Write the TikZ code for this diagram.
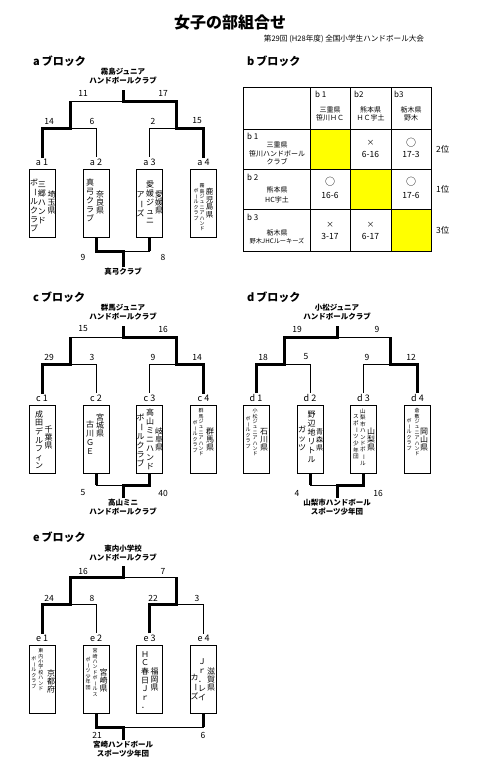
\documentclass[tikz,border=0pt]{standalone}
\usepackage{fontspec}
\setmainfont{Noto Sans CJK JP}
\usepackage{graphicx}
\makeatletter
\def\vt@dash{ー}
\newcommand\vtext[3]{\vbox{\offinterlineskip\fontsize{#1}{#2}\selectfont
 \@tfor\vt@c:=#3\do{\hbox to #2{\hss\vrule width 0pt height .82\dimexpr#2\relax depth .18\dimexpr#2\relax
 \ifx\vt@c\vt@dash\rotatebox[origin=c]{-90}{ー}\else\vt@c\fi\hss}}}}
\makeatother
\newcommand\colL[1]{\vtext{8pt}{9pt}{#1}}
\newcommand\colP[1]{\vtext{8pt}{8.4pt}{#1}}
\newcommand\colS[1]{\vtext{5pt}{5.4pt}{#1}}
\definecolor{yel}{RGB}{255,255,0}
\tikzset{
 thinl/.style={line width=0.9pt},
 thickl/.style={line width=3pt},
 lbl/.style={font=\fontsize{9}{10}\selectfont, inner sep=1pt},
 sc/.style={font=\fontsize{8.5}{10}\selectfont, inner sep=0pt},
 wl/.style={font=\bfseries\fontsize{7.5}{9}\selectfont, align=center, inner sep=1pt},
 hd/.style={font=\bfseries\fontsize{11}{12}\selectfont, inner sep=0pt, anchor=west},
 tbox/.style={draw, line width=0.9pt, minimum width=26pt, minimum height=68pt, inner sep=0pt},
 vl/.style={anchor=north, inner sep=0pt},
 tl/.style={font=\fontsize{8}{9}\selectfont, inner sep=0pt, anchor=west},
 tm/.style={font=\fontsize{7}{8}\selectfont, inner sep=0pt},
 ts/.style={font=\fontsize{6.2}{7}\selectfont, inner sep=0pt},
 tc/.style={font=\fontsize{8.5}{10}\selectfont, inner sep=0pt},
 tx/.style={font=\fontsize{7.5}{9}\selectfont, inner sep=0pt},
 tcirc/.style={font=\fontsize{10}{11}\selectfont, inner sep=0pt},
}
\newcommand\blk[2]{%
 \node[hd] (#1hd) at (33,61) {#2\hspace{2pt}ブロック};
 \coordinate (#1top) at (123,90);
 \coordinate (#1m) at (123,101);
 \coordinate (#1ul) at (70,101);
 \coordinate (#1ur) at (176,101);
 \coordinate (#1ll) at (70,128);
 \coordinate (#1lr) at (176,128);
 \coordinate (#1b1) at (42,128);
 \coordinate (#1b2) at (96,128);
 \coordinate (#1b3) at (149.5,128);
 \coordinate (#1b4) at (203.5,128);
 \node[lbl] (#1l1) at (42,162) {#2 1};
 \node[lbl] (#1l2) at (96,162) {#2 2};
 \node[lbl] (#1l3) at (149.5,162) {#2 3};
 \node[lbl] (#1l4) at (203.5,162) {#2 4};
 \node[tbox] (#1x1) at (42,203) {};
 \node[tbox] (#1x2) at (96,203) {};
 \node[tbox] (#1x3) at (149.5,203) {};
 \node[tbox] (#1x4) at (203.5,203) {};
 \draw[thinl] (#1top) -- (#1m) (#1ul) -- (#1ur) (#1ul) -- (#1ll) (#1ur) -- (#1lr)
   (#1b1) -- (#1b2) (#1b3) -- (#1b4) (#1b1) -- (#1l1.north) (#1b2) -- (#1l2.north)
   (#1b3) -- (#1l3.north) (#1b4) -- (#1l4.north);
}
\begin{document}
\begin{tikzpicture}[x=1pt,y=-1pt]
\path[use as bounding box, fill=white] (0,0) rectangle (500,774);
\node[font=\bfseries\fontsize{16}{18}\selectfont, inner sep=0pt] (title) at (230,22) {女子の部組合せ};
\node[font=\fontsize{7.6}{9}\selectfont, inner sep=0pt] (sub) at (344,39) {第29回 (H28年度) 全国小学生ハンドボール大会};

% ---------- a block
\blk{a}{a}
\node[wl] (aw) at (123,76.5) {霧島ジュニア\\ハンドボールクラブ};
\draw[thickl] (al1.north) -- (ab1) -- (all) -- (aul);
\draw[thickl] (al4.north) -- (ab4) -- (alr) -- (aur) -- (am) -- (atop);
\node[sc] (as1) at (83,93) {11};
\node[sc] (as2) at (163,93) {17};
\node[sc] (as3) at (49,121) {14};
\node[sc] (as4) at (92,121) {6};
\node[sc] (as5) at (153,121) {2};
\node[sc] (as6) at (197,121) {15};
\node[vl] (at1a) at (34,178) {\colL{ボールクラブ}};
\node[vl] (at1b) at (42,180) {\colL{三郷ハンド}};
\node[vl] (at1c) at (51.5,190) {\colP{埼玉県}};
\node[vl] (at2a) at (90,178) {\colL{真弓クラブ}};
\node[vl] (at2b) at (100,190) {\colP{奈良県}};
\node[vl] (at3a) at (140.5,190) {\colL{アーズ}};
\node[vl] (at3b) at (150,180) {\colL{愛媛ジュニ}};
\node[vl] (at3c) at (159,190) {\colP{愛媛県}};
\node[vl] (at4a) at (196,188) {\colS{ボールクラブ}};
\node[vl] (at4b) at (202,183) {\colS{霧島ジュニアハンド}};
\node[vl] (at4c) at (209.5,188) {\vtext{7.5pt}{7.6pt}{鹿児島県}};
\coordinate (abj) at (123,251);
\node[wl] (abw) at (123,272) {真弓クラブ};
\draw[thinl] (ax3.south |- abj) -- (abj);
\draw[thickl] (ax3.south) -- (ax3.south |- abj);
\draw[thickl] (ax2.south) |- (abj) -- (abw.north);
\node[sc] (as7) at (83,257) {9};
\node[sc] (as8) at (163,257) {8};

% ---------- b block
\node[hd] (bhd) at (247,61) {b\hspace{2pt}ブロック};
\fill[yel] (310,129) rectangle (350,169);
\fill[yel] (350,169) rectangle (391,209);
\fill[yel] (391,209) rectangle (431,251);
\draw[thinl] (243,87) rectangle (431,251);
\draw[thinl] (310,87) -- (310,251) (350,87) -- (350,251) (391,87) -- (391,251)
  (243,129) -- (431,129) (243,169) -- (431,169) (243,209) -- (431,209);
\node[tl] (hb1) at (315,94) {b 1};
\node[tm] (hb1p) at (330,110) {三重県};
\node[tm] (hb1t) at (330,117.5) {笹川ＨＣ};
\node[tl] (hb2) at (354,94) {b2};
\node[tm] (hb2p) at (370.5,110) {熊本県};
\node[tm] (hb2t) at (370.5,117.5) {ＨＣ宇土};
\node[tl] (hb3) at (394,94) {b3};
\node[tm] (hb3p) at (411,110) {栃木県};
\node[tm] (hb3t) at (411,117.5) {野木};
\node[tl] (rb1) at (247,136) {b 1};
\node[tm] (rb1p) at (277,145) {三重県};
\node[tm] (rb1t) at (277,154) {笹川ハンドボール};
\node[tm] (rb1u) at (277,162) {クラブ};
\node[tl] (rb2) at (247,177) {b 2};
\node[tm] (rb2p) at (277,190) {熊本県};
\node[tm] (rb2t) at (277,200) {HC宇土};
\node[tl] (rb3) at (247,217) {b 3};
\node[tm] (rb3p) at (277,233) {栃木県};
\node[ts] (rb3t) at (277,241.5) {野木JHCルーキーズ};
\node[tx] (c12m) at (370.5,143) {×};
\node[tc] (c12s) at (370.5,154) {6-16};
\node[tcirc] (c13m) at (411,143) {○};
\node[tc] (c13s) at (411,154) {17-3};
\node[tcirc] (c21m) at (330,182) {○};
\node[tc] (c21s) at (330,195) {16-6};
\node[tcirc] (c23m) at (411,182) {○};
\node[tc] (c23s) at (411,195) {17-6};
\node[tx] (c31m) at (330,225) {×};
\node[tc] (c31s) at (330,236) {3-17};
\node[tx] (c32m) at (370.5,225) {×};
\node[tc] (c32s) at (370.5,236) {6-17};
\node[tc, anchor=west] (rk1) at (436,149) {2位};
\node[tc, anchor=west] (rk2) at (436,189) {1位};
\node[tc, anchor=west] (rk3) at (436,230) {3位};

% ---------- c block
\begin{scope}[shift={(0,236)}]
\blk{c}{c}
\node[wl] (cw) at (123,76.5) {群馬ジュニア\\ハンドボールクラブ};
\draw[thickl] (cl1.north) -- (cb1) -- (cll) -- (cul);
\draw[thickl] (cl4.north) -- (cb4) -- (clr) -- (cur) -- (cm) -- (ctop);
\node[sc] (cs1) at (83,93) {15};
\node[sc] (cs2) at (163,93) {16};
\node[sc] (cs3) at (49,121) {29};
\node[sc] (cs4) at (92,121) {3};
\node[sc] (cs5) at (153,121) {9};
\node[sc] (cs6) at (197,121) {14};
\node[vl] (ct1a) at (39,174) {\vtext{8pt}{8.6pt}{成田デルフィン}};
\node[vl] (ct1b) at (48.5,189) {\colP{千葉県}};
\node[vl] (ct2a) at (90,184) {\colL{古川ＧＥ}};
\node[vl] (ct2b) at (100,177) {\colP{宮城県}};
\node[vl] (ct3a) at (140.5,177) {\colL{ボールクラブ}};
\node[vl] (ct3b) at (150,172) {\colL{高山ミニハンド}};
\node[vl] (ct3c) at (159,191) {\colP{岐阜県}};
\node[vl] (ct4a) at (195,184) {\colS{ボールクラブ}};
\node[vl] (ct4b) at (201,172) {\colS{群馬ジュニアハンド}};
\node[vl] (ct4c) at (210,191) {\colP{群馬県}};
\coordinate (cbj) at (123,249);
\node[wl] (cbw) at (123,271.5) {高山ミニ\\ハンドボールクラブ};
\draw[thinl] (cx2.south |- cbj) -- (cbj);
\draw[thickl] (cx2.south) -- (cx2.south |- cbj);
\draw[thickl] (cx3.south) |- (cbj) -- (cbw.north);
\node[sc] (cs7) at (83,257) {5};
\node[sc] (cs8) at (163,257) {40};
\end{scope}

% ---------- d block
\begin{scope}[shift={(214,236)}]
\blk{d}{d}
\node[wl] (dw) at (123,76.5) {小松ジュニア\\ハンドボールクラブ};
\draw[thickl] (dl1.north) -- (db1) -- (dll) -- (dul) -- (dm) -- (dtop);
\draw[thickl] (dl4.north) -- (db4) -- (dlr) -- (dur);
\node[sc] (ds1) at (83,93) {19};
\node[sc] (ds2) at (163,93) {9};
\node[sc] (ds3) at (49,121) {18};
\node[sc] (ds4) at (92,121) {5};
\node[sc] (ds5) at (153,121) {9};
\node[sc] (ds6) at (197,121) {12};
\node[vl] (dt1a) at (34,180) {\colS{ボールクラブ}};
\node[vl] (dt1b) at (41,172) {\colS{小松ジュニアハンド}};
\node[vl] (dt1c) at (50,191) {\colP{石川県}};
\node[vl] (dt2a) at (88,189) {\colL{ガッツ}};
\node[vl] (dt2b) at (97.5,174) {\colL{野辺地リトル}};
\node[vl] (dt2c) at (105.5,191) {\vtext{7pt}{8.4pt}{青森県}};
\node[vl] (dt3a) at (142,177) {\vtext{5.6pt}{6.6pt}{スポーツ少年団}};
\node[vl] (dt3b) at (149,172) {\vtext{5.6pt}{6.4pt}{山梨市ハンドボール}};
\node[vl] (dt3c) at (157,191) {\colP{山梨県}};
\node[vl] (dt4a) at (195,182) {\colS{ボールクラブ}};
\node[vl] (dt4b) at (203,172) {\colS{倉敷ジュニアハンド}};
\node[vl] (dt4c) at (210,191) {\colP{岡山県}};
\coordinate (dbj) at (123,249);
\node[wl] (dbw) at (123,271.5) {山梨市ハンドボール\\スポーツ少年団};
\draw[thinl] (dx2.south |- dbj) -- (dbj);
\draw[thickl] (dx2.south) -- (dx2.south |- dbj);
\draw[thickl] (dx3.south) |- (dbj) -- (dbw.north);
\node[sc] (ds7) at (83,257) {4};
\node[sc] (ds8) at (164,257) {16};
\end{scope}

% ---------- e block
\begin{scope}[shift={(0,476)}]
\blk{e}{e}
\node[wl] (ew) at (123,77.5) {東内小学校\\ハンドボールクラブ};
\draw[thickl] (el1.north) -- (eb1) -- (ell) -- (eul) -- (em) -- (etop);
\draw[thickl] (el3.north) -- (eb3) -- (elr) -- (eur);
\node[sc] (es1) at (83,95) {16};
\node[sc] (es2) at (163,95) {7};
\node[sc] (es3) at (49,122) {24};
\node[sc] (es4) at (92,122) {8};
\node[sc] (es5) at (153,122) {22};
\node[sc] (es6) at (197,122) {3};
\node[vl] (et1a) at (34,180) {\colS{ボールクラブ}};
\node[vl] (et1b) at (41,172) {\colS{東内小学校ハンド}};
\node[vl] (et1c) at (51,193) {\colP{京都府}};
\node[vl] (et2a) at (88,181) {\colS{ポーツ少年団}};
\node[vl] (et2b) at (95,172) {\colS{宮崎ハンドボールス}};
\node[vl] (et2c) at (103.5,192) {\colP{宮崎県}};
\node[vl] (et3a) at (145,174) {\vtext{8pt}{8.6pt}{ＨＣ春日Ｊｒ．}};
\node[vl] (et3b) at (154.5,191) {\colP{福岡県}};
\node[vl] (et4a) at (194.5,197) {\colL{カーズ}};
\node[vl] (et4b) at (202,181) {\colL{Ｊｒ．レイ}};
\node[vl] (et4c) at (211,191) {\colP{滋賀県}};
\coordinate (ebj) at (123,251);
\node[wl] (ebw) at (123,273.5) {宮崎ハンドボール\\スポーツ少年団};
\draw[thinl] (ex4.south |- ebj) -- (ebj);
\draw[thickl] (ex4.south) -- (ex4.south |- ebj);
\draw[thickl] (ex2.south) |- (ebj) -- (ebw.north);
\node[sc] (es7) at (97,259) {21};
\node[sc] (es8) at (203,259) {6};
\end{scope}
\end{tikzpicture}
\end{document}
